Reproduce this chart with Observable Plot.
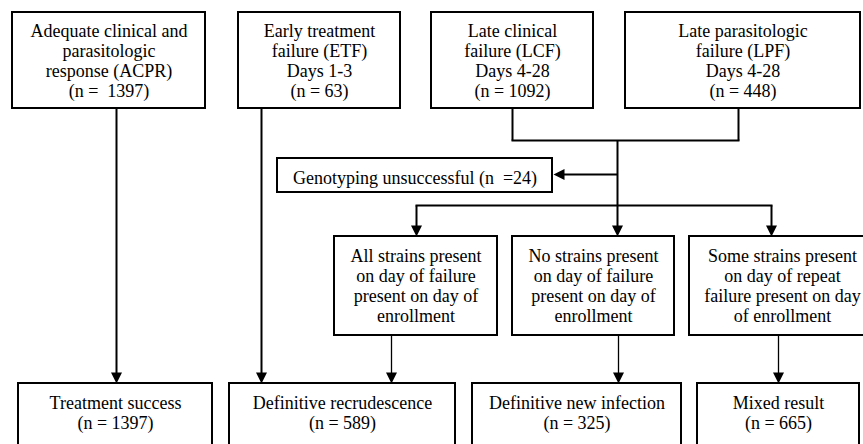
<!DOCTYPE html>
<html><head><meta charset="utf-8">
<script src="https://cdn.jsdelivr.net/npm/d3@7"></script>
<script src="https://cdn.jsdelivr.net/npm/@observablehq/plot@0.6"></script>
<style>
body{margin:0;background:#fff;overflow:hidden}
svg text{white-space:pre}
</style>
</head><body><div id="chart"></div>
<script>
// ---------- data ----------
const outcomeLabels = [
  "Adequate clinical and\nparasitologic\nresponse (ACPR)",
  "Early treatment\nfailure (ETF)\nDays 1-3",
  "Late clinical\nfailure (LCF)\nDays 4-28",
  "Late parasitologic\nfailure (LPF)\nDays 4-28"
];
const outcomeCountText = ["(n =  1397)", "(n = 63)", "(n = 1092)", "(n = 448)"];
const genotypingLabel = "Genotyping unsuccessful (n  =24)";
const patternLabels = [
  "All strains present\non day of failure\npresent on day of\nenrollment",
  "No strains present\non day of failure\npresent on day of\nenrollment",
  "Some strains present\non day of repeat\nfailure present on day\nof enrollment"
];
const resultLabels = ["Treatment success", "Definitive recrudescence", "Definitive new infection", "Mixed result"];
const resultCounts = [1397, 589, 325, 665];

// ---------- layout (pixel space) ----------
const W = 863, H = 444;
const topX = [[12, 205], [238, 400], [431, 593], [625, 860]];
const topY = [12, 108];
const genoBox = [277, 552, 158, 192];
const midX = [[334, 497], [512, 674], [689, 872]];
const midY = [236, 335];
const botX = [[18, 212], [229, 455], [472, 681], [697, 859]];
const botY = [383, 452];

const boxes = [];
topX.forEach(([a, b], i) => boxes.push({x1: a, x2: b, y1: topY[0], y2: topY[1], text: outcomeLabels[i] + "\n" + outcomeCountText[i]}));
boxes.push({x1: genoBox[0], x2: genoBox[1], y1: genoBox[2], y2: genoBox[3], text: genotypingLabel, dy: 2});
midX.forEach(([a, b], i) => boxes.push({x1: a, x2: b, y1: midY[0], y2: midY[1], text: patternLabels[i], cx: i === 2 ? 782 : null}));
botX.forEach(([a, b], i) => boxes.push({x1: a, x2: b, y1: botY[0], y2: botY[1], text: resultLabels[i] + "\n(n = " + resultCounts[i] + ")", cy: 412}));
boxes.forEach(d => { d.tx = d.cx ?? (d.x1 + d.x2) / 2; d.ty = (d.cy ?? (d.y1 + d.y2) / 2) + (d.dy || 0); });

const thick = [
  {x1: 116, y1: 108, x2: 116, y2: 377},
  {x1: 261, y1: 108, x2: 261, y2: 377},
  {x1: 512, y1: 108, x2: 512, y2: 140},
  {x1: 738, y1: 108, x2: 738, y2: 140},
  {x1: 511, y1: 140, x2: 739, y2: 140},
  {x1: 617, y1: 140, x2: 617, y2: 230},
  {x1: 617, y1: 174, x2: 560, y2: 174},
  {x1: 415, y1: 205, x2: 772, y2: 205},
  {x1: 416, y1: 205, x2: 416, y2: 230},
  {x1: 771, y1: 205, x2: 771, y2: 230}
];
const thin = [
  {x1: 391, y1: 335, x2: 391, y2: 377},
  {x1: 618, y1: 335, x2: 618, y2: 377},
  {x1: 778, y1: 335, x2: 778, y2: 377}
];
const heads = [
  {x: 116, y: 383, rot: 0}, {x: 261, y: 383, rot: 0},
  {x: 391, y: 383, rot: 0}, {x: 618, y: 383, rot: 0}, {x: 778, y: 383, rot: 0},
  {x: 416, y: 236, rot: 0}, {x: 617, y: 236, rot: 0}, {x: 771, y: 236, rot: 0},
  {x: 553, y: 174, rot: 90}
];
const arrowHead = {draw(ctx) { ctx.moveTo(0, 0); ctx.lineTo(-5.5, -11); ctx.lineTo(5.5, -11); ctx.closePath(); }};

const serif = "'Liberation Serif', 'Times New Roman', serif";
const chart = Plot.plot({
  width: W, height: H,
  margin: 0,
  x: {domain: [0, W], range: [0, W], axis: null},
  y: {domain: [0, H], range: [0, H], axis: null},
  style: {background: "white"},
  marks: [
    Plot.link(thick, {x1: "x1", y1: "y1", x2: "x2", y2: "y2", stroke: "black", strokeWidth: 2}),
    Plot.link(thin, {x1: "x1", y1: "y1", x2: "x2", y2: "y2", stroke: "black", strokeWidth: 1.3}),
    Plot.dot(heads, {x: "x", y: "y", rotate: "rot", symbol: arrowHead, fill: "black", r: 5}),
    Plot.rect(boxes, {x1: "x1", x2: "x2", y1: "y1", y2: "y2", fill: "white", stroke: "black", strokeWidth: 2}),
    Plot.text(boxes, {x: "tx", y: "ty", text: "text", fontSize: 18, fontFamily: serif, lineHeight: 20 / 18, fill: "black", textAnchor: "middle", lineAnchor: "middle"})
  ]
});
document.getElementById("chart").appendChild(chart);
</script>
</body></html>
